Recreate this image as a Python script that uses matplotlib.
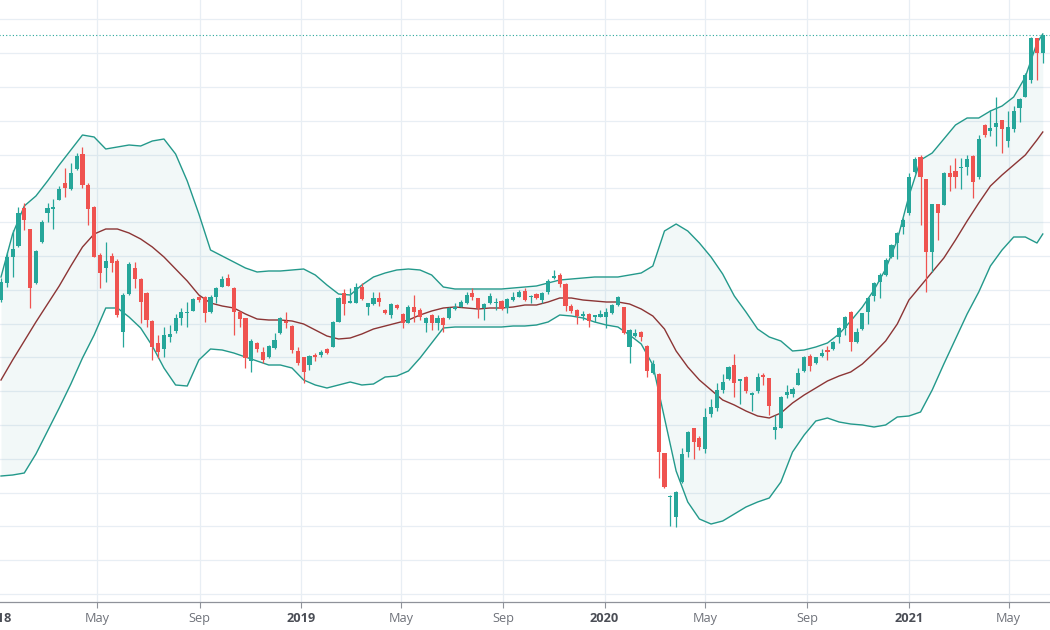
import numpy as np
import pandas as pd
import matplotlib
matplotlib.use("Agg")
import matplotlib.pyplot as plt
import matplotlib.dates as mdates
from matplotlib.ticker import MultipleLocator

plt.rcParams['font.family'] = ['Open Sans', 'DejaVu Sans']

# ---------------- data (weekly candles, arbitrary price units) ----------------
first_week = "2018-01-05"
n_weeks = 180

opens = [294, 311, 337, 348, 386, 365, 311, 352, 381, 385,
         394, 411, 405, 425, 440, 409, 387, 339, 326, 338,
         333, 262, 300, 326, 315, 301, 273, 251, 245, 257,
         263, 276, 281, 283, 297, 297, 282, 297, 307, 316,
         306, 282, 276, 233, 251, 242, 237, 246, 261, 273,
         268, 243, 237, 229, 239, 239, 245, 247, 272, 301,
         291, 291, 307, 287, 290, 296, 284, 279, 289, 280,
         271, 287, 284, 271, 279, 271, 276, 276, 285, 287,
         291, 301, 296, 286, 291, 291, 293, 286, 294, 297,
         303, 297, 300, 294, 302, 316, 319, 310, 288, 284,
         278, 280, 277, 277, 277, 281, 289, 287, 247, 258,
         262, 248, 221, 220, 141, 97, 77, 112, 142, 166,
         156, 145, 180, 186, 204, 215, 229, 213, 217, 199,
         203, 219, 216, 164, 166, 199, 200, 209, 223, 238,
         231, 238, 244, 245, 257, 266, 282, 252, 265, 282,
         298, 312, 319, 337, 351, 367, 381, 422, 437, 415,
         342, 390, 389, 421, 423, 426, 427, 438, 417, 469,
         463, 467, 474, 453, 465, 486, 497, 514, 556, 541]

highs = [316, 342, 364, 387, 391, 365, 344, 374, 391, 395,
         408, 426, 431, 441, 447, 411, 388, 341, 352, 341,
         335, 301, 332, 332, 316, 302, 274, 259, 267, 269,
         280, 286, 292, 296, 298, 298, 299, 307, 318, 320,
         307, 283, 276, 255, 252, 247, 249, 261, 277, 282,
         269, 247, 237, 239, 241, 244, 246, 273, 297, 305,
         306, 311, 311, 291, 302, 302, 285, 291, 290, 281,
         289, 299, 286, 277, 280, 279, 277, 287, 291, 294,
         302, 306, 296, 291, 301, 296, 294, 296, 302, 304,
         306, 299, 301, 302, 315, 324, 321, 311, 290, 285,
         283, 281, 279, 284, 286, 290, 298, 287, 265, 265,
         263, 249, 234, 221, 141, 99, 103, 146, 163, 166,
         158, 186, 195, 211, 220, 228, 240, 215, 218, 202,
         221, 221, 216, 179, 198, 209, 207, 226, 238, 240,
         237, 245, 248, 253, 267, 278, 283, 266, 281, 297,
         312, 321, 336, 350, 362, 376, 421, 437, 439, 415,
         390, 390, 422, 429, 436, 436, 439, 439, 459, 470,
         484, 497, 474, 483, 488, 496, 521, 557, 556, 559]

lows = [292, 307, 317, 347, 364, 286, 310, 351, 372, 365,
        394, 397, 404, 424, 406, 369, 337, 306, 312, 322,
        277, 247, 299, 306, 271, 267, 234, 236, 237, 252,
        261, 269, 267, 283, 292, 272, 281, 291, 307, 308,
        259, 267, 226, 222, 242, 231, 236, 245, 260, 266,
        241, 229, 211, 224, 233, 237, 240, 247, 272, 279,
        291, 291, 294, 279, 289, 288, 280, 276, 285, 266,
        271, 272, 274, 262, 264, 264, 262, 275, 284, 287,
        290, 294, 276, 274, 290, 284, 284, 281, 293, 297,
        293, 291, 295, 291, 300, 315, 307, 283, 281, 270,
        274, 267, 272, 277, 266, 280, 288, 260, 231, 257,
        253, 217, 220, 116, 106, 68, 67, 111, 137, 135,
        144, 141, 177, 183, 201, 214, 197, 190, 201, 183,
        201, 209, 179, 155, 166, 196, 197, 209, 222, 223,
        230, 237, 234, 244, 251, 259, 243, 251, 264, 270,
        293, 296, 318, 336, 335, 360, 379, 421, 369, 302,
        322, 354, 389, 403, 406, 405, 419, 396, 415, 457,
        458, 448, 441, 447, 462, 472, 497, 511, 514, 531]

closes = [312, 337, 345, 381, 374, 306, 343, 372, 386, 387,
          405, 406, 421, 438, 409, 385, 337, 321, 333, 331,
          279, 299, 330, 315, 292, 274, 247, 242, 259, 260,
          276, 282, 282, 295, 294, 281, 297, 306, 315, 308,
          282, 275, 236, 253, 245, 234, 248, 254, 276, 271,
          244, 231, 222, 238, 237, 242, 241, 272, 296, 290,
          293, 307, 295, 291, 296, 292, 281, 290, 286, 271,
          287, 282, 277, 276, 271, 276, 269, 286, 287, 292,
          299, 297, 286, 290, 298, 292, 285, 295, 297, 302,
          294, 298, 296, 301, 313, 318, 310, 288, 283, 278,
          280, 273, 279, 280, 282, 289, 297, 261, 264, 261,
          257, 223, 230, 142, 107, 98, 102, 140, 162, 152,
          147, 177, 187, 204, 212, 227, 211, 215, 203, 201,
          217, 217, 188, 167, 197, 202, 205, 221, 237, 228,
          237, 241, 242, 252, 266, 277, 252, 262, 281, 296,
          311, 319, 334, 349, 361, 374, 417, 435, 417, 342,
          390, 381, 421, 417, 417, 427, 435, 412, 455, 459,
          466, 471, 465, 467, 483, 495, 519, 556, 541, 559]

# Bollinger band values read every second week
band_weeks = [0, 2, 4, 6, 8, 10, 12, 14, 16, 18, 20, 22, 24, 26, 28, 30, 32, 34,
              36, 38, 40, 42, 44, 46, 48, 50, 52, 54, 56, 58, 60, 62, 64, 66, 68,
              70, 72, 74, 76, 78, 80, 82, 84, 86, 88, 90, 92, 94, 96, 98, 100, 102,
              104, 106, 108, 110, 112, 114, 116, 118, 120, 122, 124, 126, 128, 130,
              132, 134, 136, 138, 140, 142, 144, 146, 148, 150, 152, 154, 156, 158,
              160, 162, 164, 166, 168, 170, 172, 174, 176, 178, 179]

band_upper = [317, 360, 388, 398, 413, 429, 444, 459, 457, 445, 447, 449, 448, 453,
              455, 440, 413, 380, 344, 338, 332, 326, 322, 323, 323, 324, 325, 319,
              309, 300, 299, 309, 317, 321, 324, 325, 324, 319, 307, 305, 305, 305,
              305, 305, 306, 307, 308, 311, 314, 315, 316, 317, 317, 317, 319, 321,
              328, 363, 370, 363, 351, 337, 320, 298, 282, 265, 257, 253, 243, 244,
              247, 251, 260, 273, 287, 304, 325, 354, 398, 434, 441, 455, 469, 476,
              476, 483, 488, 497, 517, 551, 560]

band_basis = [214, 234, 253, 272, 290, 308, 328, 347, 360, 365, 365, 361, 355, 347,
              337, 325, 313, 299, 291, 288, 286, 280, 275, 274, 274, 273, 270, 264,
              258, 255, 256, 260, 265, 268, 271, 274, 279, 283, 286, 287, 286, 285,
              286, 286, 287, 289, 289, 292, 296, 296, 294, 293, 292, 292, 290, 285,
              278, 265, 243, 227, 214, 204, 194, 189, 183, 178, 176, 181, 191, 199,
              206, 213, 218, 222, 230, 241, 253, 270, 294, 308, 322, 336, 354, 373,
              391, 408, 419, 429, 439, 454, 462]

band_lower = [118, 119, 121, 140, 163, 186, 210, 236, 259, 286, 286, 277, 266, 248,
              226, 209, 208, 234, 245, 244, 241, 237, 233, 229, 229, 226, 214, 209,
              206, 209, 212, 209, 210, 217, 218, 223, 236, 251, 266, 267, 267, 267,
              267, 267, 268, 268, 269, 272, 279, 278, 276, 272, 269, 267, 259, 250,
              229, 176, 123, 92, 75, 70, 73, 80, 87, 92, 96, 112, 142, 159, 173,
              176, 172, 170, 169, 167, 169, 177, 178, 182, 204, 230, 255, 280, 302,
              328, 344, 357, 357, 351, 360]

tick_dates = ["2018-01-01", "2018-05-01", "2018-09-01", "2019-01-01", "2019-05-01",
              "2019-09-01", "2020-01-01", "2020-05-01", "2020-09-01", "2021-01-01",
              "2021-05-01"]
tick_labels = ["2018", "May", "Sep", "2019", "May", "Sep", "2020", "May", "Sep",
               "2021", "May"]

# ---------------- styling ----------------
UP = "#26a69a"
DOWN = "#ef5350"
BAND = "#23998b"
BASIS = "#8c3535"
GRID = "#e8eef4"

W, H = 1050, 630
px_per_day = 5.82 / 7.0
dates = pd.date_range(first_week, periods=n_weeks, freq="7D")
x = mdates.date2num(dates)
x0 = x[0] - 4.5
x1 = x[0] + (W - 1) / px_per_day
left_px = 1 - 4.5 * px_per_day

fig = plt.figure(figsize=(W / 100, H / 100), dpi=100)
ax = fig.add_axes([left_px / W, 28 / H, (W - left_px) / W, (H - 28) / H])

o = np.array(opens, float)
h = np.array(highs, float)
l = np.array(lows, float)
c = np.array(closes, float)
up = c >= o
cols = np.where(up, UP, DOWN)

bx = x[np.array(band_weeks)]
ax.fill_between(bx, band_lower, band_upper, color="#198787", alpha=0.055, lw=0, zorder=1)
ax.plot(bx, band_upper, color=BAND, lw=1.0, zorder=2, solid_joinstyle="round")
ax.plot(bx, band_lower, color=BAND, lw=1.0, zorder=2, solid_joinstyle="round")
ax.plot(bx, band_basis, color=BASIS, lw=1.0, zorder=2, solid_joinstyle="round")

ax.vlines(x, l, h, colors=cols, lw=0.9, zorder=3)
body_h = np.maximum(np.abs(c - o), 1.0)
ax.bar(x, body_h, bottom=np.minimum(o, c), width=5.0, color=cols, lw=0, zorder=4)

ax.axhline(c[-1], color=UP, lw=0.8, ls=(0, (1, 2)), zorder=2)

ax.set_xlim(x0, x1)
ax.set_ylim(-8, 594)
ax.yaxis.set_major_locator(MultipleLocator(33.8))
ax.tick_params(axis="y", length=0, labelleft=False)

tx = mdates.date2num(pd.to_datetime(tick_dates))
ax.set_xticks(tx)
ax.set_xticklabels(tick_labels)
ax.tick_params(axis="x", length=4, width=0.8, color="#8f929a", pad=3, labelsize=9.2)
for lbl in ax.get_xticklabels():
    if lbl.get_text().isdigit():
        lbl.set_fontweight("bold")
        lbl.set_color("#4a4d55")
    else:
        lbl.set_color("#6f727a")

ax.grid(True, color=GRID, lw=0.9, zorder=0)
ax.set_axisbelow(True)
for s in ["top", "right", "left"]:
    ax.spines[s].set_visible(False)
ax.spines["bottom"].set_color("#8f929a")
ax.spines["bottom"].set_linewidth(0.9)

fig.savefig("out.png", dpi=100)
